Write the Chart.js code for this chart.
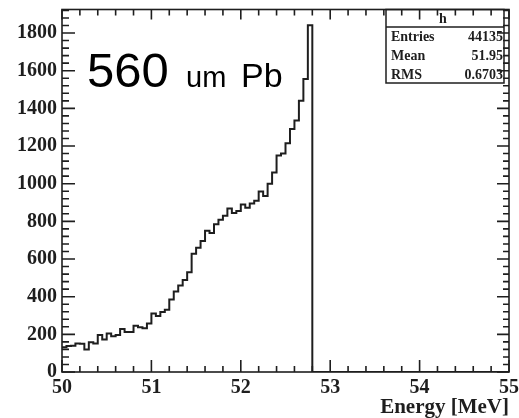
<!DOCTYPE html>
<html>
<head>
<meta charset="utf-8">
<script src="https://cdn.jsdelivr.net/npm/chart.js@4.4.0/dist/chart.umd.min.js"></script>
<style>
  html, body { margin: 0; padding: 0; background: #fff; }
  #wrap { width: 519px; height: 418px; }
</style>
</head>
<body>
<div id="wrap"><canvas id="histo"></canvas></div>
<script>
// energy histogram, 0.05 MeV bins starting at 50 MeV
const binStart = 50;
const binWidth = 0.05;
const counts = [
  132, 138, 140, 152, 150, 120, 158, 152, 196, 172,
  205, 190, 197, 228, 212, 212, 245, 237, 232, 258,
  310, 297, 318, 330, 385, 428, 460, 488, 530, 628,
  660, 695, 750, 738, 785, 808, 830, 868, 845, 855,
  890, 872, 895, 910, 958, 935, 1000, 1060, 1150, 1160,
  1215, 1290, 1335, 1440, 1556, 1842
];
const xTicks = [50, 51, 52, 53, 54, 55];
const yTicks = [0, 200, 400, 600, 800, 1000, 1200, 1400, 1600, 1800];
const statNames = ['Entries', 'Mean', 'RMS'];
const statValues = ['44135', '51.95', '0.6703'];

const points = counts.map((c, i) => ({ x: binStart + i * binWidth, y: c }));
points.push({ x: binStart + counts.length * binWidth, y: 0 });
points.push({ x: 55, y: 0 });

const ink = '#1e1e1e';
const serifBold = 'bold 14px "Liberation Serif", "DejaVu Serif", serif';

// frame, inward ticks on all sides, stats box and the label text
const frame = {
  id: 'frame',
  beforeDraw(chart) {
    const ctx = chart.ctx;
    ctx.save();
    ctx.fillStyle = '#fff';
    ctx.fillRect(0, 0, chart.width, chart.height);
    ctx.restore();
  },
  afterDraw(chart) {
    const { ctx, chartArea: a, scales: { x, y } } = chart;
    ctx.save();

    // stats box
    const bx = 386, bw = a.right - 5 - bx, by = a.top, bh = 83 - a.top;
    ctx.fillStyle = '#fff';
    ctx.fillRect(bx, by, bw, bh);
    ctx.strokeStyle = ink;
    ctx.lineWidth = 1.5;
    ctx.strokeRect(bx, by, bw, bh);
    ctx.beginPath();
    ctx.moveTo(bx, 27); ctx.lineTo(bx + bw, 27);
    ctx.stroke();
    ctx.fillStyle = ink;
    ctx.font = serifBold;
    ctx.textAlign = 'center';
    ctx.fillText('h', bx + bw / 2 - 2, 23);
    const rowY = [41, 60, 79];
    statNames.forEach((n, i) => {
      ctx.textAlign = 'left';
      ctx.fillText(n, bx + 5, rowY[i]);
      ctx.textAlign = 'right';
      ctx.fillText(statValues[i], bx + bw - 1, rowY[i]);
    });

    // frame
    ctx.lineWidth = 1.6;
    ctx.strokeRect(a.left, a.top, a.width, a.height);

    // ticks
    ctx.beginPath();
    for (let k = 0; k <= 25; k++) {
      const px = x.getPixelForValue(50 + k * 0.2);
      const big = k % 5 === 0;
      ctx.moveTo(px, a.bottom); ctx.lineTo(px, a.bottom - (big ? 12 : 6));
      ctx.moveTo(px, a.top); ctx.lineTo(px, a.top + (big ? 10 : 6));
    }
    for (let k = 0; k <= 48; k++) {
      const py = y.getPixelForValue(k * 40);
      const big = k % 5 === 0;
      ctx.moveTo(a.left, py); ctx.lineTo(a.left + (big ? 13 : 7), py);
      ctx.moveTo(a.right, py); ctx.lineTo(a.right - (big ? 12 : 6), py);
    }
    ctx.stroke();

    // target label
    ctx.fillStyle = '#000';
    ctx.textAlign = 'left';
    ctx.font = '49px "Liberation Sans", Arial, sans-serif';
    ctx.fillText('560', 87, 87);
    ctx.font = '29px "Liberation Sans", Arial, sans-serif';
    ctx.fillText('um', 186, 87);
    ctx.font = '34px "Liberation Sans", Arial, sans-serif';
    ctx.fillText('Pb', 241, 87);
    ctx.restore();
  }
};

new Chart(document.getElementById('histo'), {
  type: 'line',
  data: {
    datasets: [{
      label: 'h',
      data: points,
      stepped: true,
      borderColor: ink,
      borderWidth: 2,
      pointRadius: 0,
      fill: false
    }]
  },
  plugins: [frame],
  options: {
    responsive: true,
    maintainAspectRatio: false,
    animation: false,
    layout: { padding: { top: 9.5, right: 10, left: 0, bottom: 0 } },
    plugins: { legend: { display: false }, tooltip: { enabled: false } },
    scales: {
      x: {
        type: 'linear',
        min: 50,
        max: 55,
        grid: { display: false, drawTicks: false, tickLength: 0 },
        border: { display: false },
        afterFit: s => { s.height = 46; s.paddingLeft = 0; s.paddingRight = 0; },
        afterBuildTicks: s => { s.ticks = xTicks.map(v => ({ value: v })); },
        ticks: {
          padding: 6,
          color: ink,
          maxRotation: 0,
          callback: v => String(v),
          font: { family: '"Liberation Serif", serif', size: 20, weight: 'bold', lineHeight: 1 }
        },
        title: {
          display: true,
          text: 'Energy [MeV]',
          align: 'end',
          color: ink,
          padding: { top: 0, bottom: 0 },
          font: { family: '"Liberation Serif", serif', size: 21, weight: 'bold', lineHeight: 1 }
        }
      },
      y: {
        min: 0,
        max: 1925,
        grid: { display: false, drawTicks: false, tickLength: 0 },
        border: { display: false },
        afterFit: s => { s.width = 62; s.paddingTop = 0; s.paddingBottom = 0; },
        afterBuildTicks: s => { s.ticks = yTicks.map(v => ({ value: v })); },
        ticks: {
          padding: 5,
          color: ink,
          callback: v => String(v),
          font: { family: '"Liberation Serif", serif', size: 20, weight: 'bold' }
        }
      }
    }
  }
});
</script>
</body>
</html>
